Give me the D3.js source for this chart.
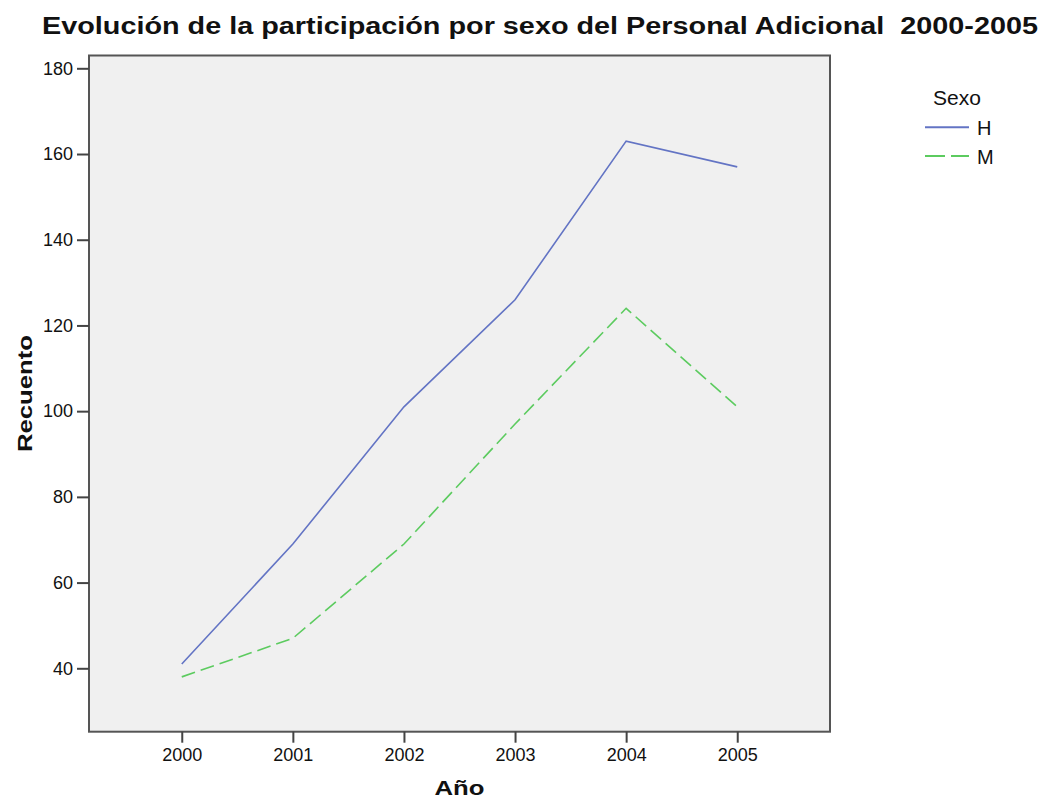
<!DOCTYPE html>
<html>
<head>
<meta charset="utf-8">
<script src="https://cdn.jsdelivr.net/npm/d3@7"></script>
<style>
  body { margin: 0; background: #fff; }
  svg text { font-family: "Liberation Sans", Arial, sans-serif; fill: #111; }
</style>
</head>
<body>
<svg id="chart" width="1045" height="798"></svg>
<script>
// data
const years = [2000, 2001, 2002, 2003, 2004, 2005];
const hombres = [41, 69, 101, 126, 163, 157];
const mujeres = [38, 47, 69, 97, 124, 101];
const yTicks = [40, 60, 80, 100, 120, 140, 160, 180];

const series = [
    { name: "H", values: hombres, color: "#6374c4", dash: null, legendDash: null },
    { name: "M", values: mujeres, color: "#5ccb5f", dash: "14,6", legendDash: "20,6" }
];

const svg = d3.select("#chart");
const plotL = 89, plotR = 830, plotT = 55.5, plotB = 731.7;

const x = d3.scalePoint().domain(years).range([plotL, plotR]).padding(0.835);
// 40 -> 668.3, 180 -> 68.3
const y = d3.scaleLinear().domain([40, 180]).range([668.3, 68.3]);

// plot background + frame
svg.append("rect")
    .attr("x", plotL).attr("y", plotT)
    .attr("width", plotR - plotL).attr("height", plotB - plotT)
    .attr("fill", "#f0f0f0")
    .attr("stroke", "#555").attr("stroke-width", 2);

// title (keeps the double space before the years)
svg.append("text")
    .attr("x", 42).attr("y", 34)
    .attr("textLength", 996).attr("lengthAdjust", "spacingAndGlyphs")
    .style("font-size", "23px").style("font-weight", "bold")
    .style("white-space", "pre")
    .text("Evolución de la participación por sexo del Personal Adicional  2000-2005");

// y axis
const yAxis = svg.append("g")
    .attr("transform", "translate(" + plotL + ",0)")
    .call(d3.axisLeft(y).tickValues(yTicks).tickSize(12).tickPadding(4).tickFormat(d3.format("d")));
yAxis.select(".domain").remove();
yAxis.selectAll(".tick line").attr("stroke", "#444").attr("stroke-width", 2);
yAxis.selectAll(".tick text").style("font-size", "18px").attr("fill", "#222");

// x axis
const xAxis = svg.append("g")
    .attr("transform", "translate(0," + plotB + ")")
    .call(d3.axisBottom(x).tickSize(11).tickPadding(6));
xAxis.select(".domain").remove();
xAxis.selectAll(".tick line").attr("stroke", "#444").attr("stroke-width", 2);
xAxis.selectAll(".tick text").style("font-size", "18px").attr("fill", "#222");

// axis titles
svg.append("text")
    .attr("x", (plotL + plotR) / 2).attr("y", 795)
    .attr("text-anchor", "middle")
    .attr("textLength", 50).attr("lengthAdjust", "spacingAndGlyphs")
    .style("font-size", "21px").style("font-weight", "bold")
    .text("Año");

svg.append("text")
    .attr("transform", "translate(32," + (plotT + plotB) / 2 + ") rotate(-90)")
    .attr("text-anchor", "middle")
    .attr("textLength", 117).attr("lengthAdjust", "spacingAndGlyphs")
    .style("font-size", "21px").style("font-weight", "bold")
    .text("Recuento");

// lines
const line = d3.line()
    .x((d, i) => x(years[i]))
    .y(d => y(d));

for (const s of series) {
    svg.append("path")
        .datum(s.values)
        .attr("d", line)
        .attr("fill", "none")
        .attr("stroke", s.color)
        .attr("stroke-width", 1.6)
        .attr("stroke-dasharray", s.dash);
}

// legend
const legend = svg.append("g");
legend.append("text")
    .attr("x", 933).attr("y", 105)
    .style("font-size", "21px").attr("fill", "#333")
    .text("Sexo");

series.forEach(function (s, i) {
    let ly = 127.3 + i * 28.7;
    legend.append("line")
        .attr("x1", 925).attr("x2", 969)
        .attr("y1", ly).attr("y2", ly)
        .attr("stroke", s.color).attr("stroke-width", 2)
        .attr("stroke-dasharray", s.legendDash);
    legend.append("text")
        .attr("x", 977).attr("y", ly + 8)
        .style("font-size", "20px").attr("fill", "#222")
        .text(s.name);
});
</script>
</body>
</html>
